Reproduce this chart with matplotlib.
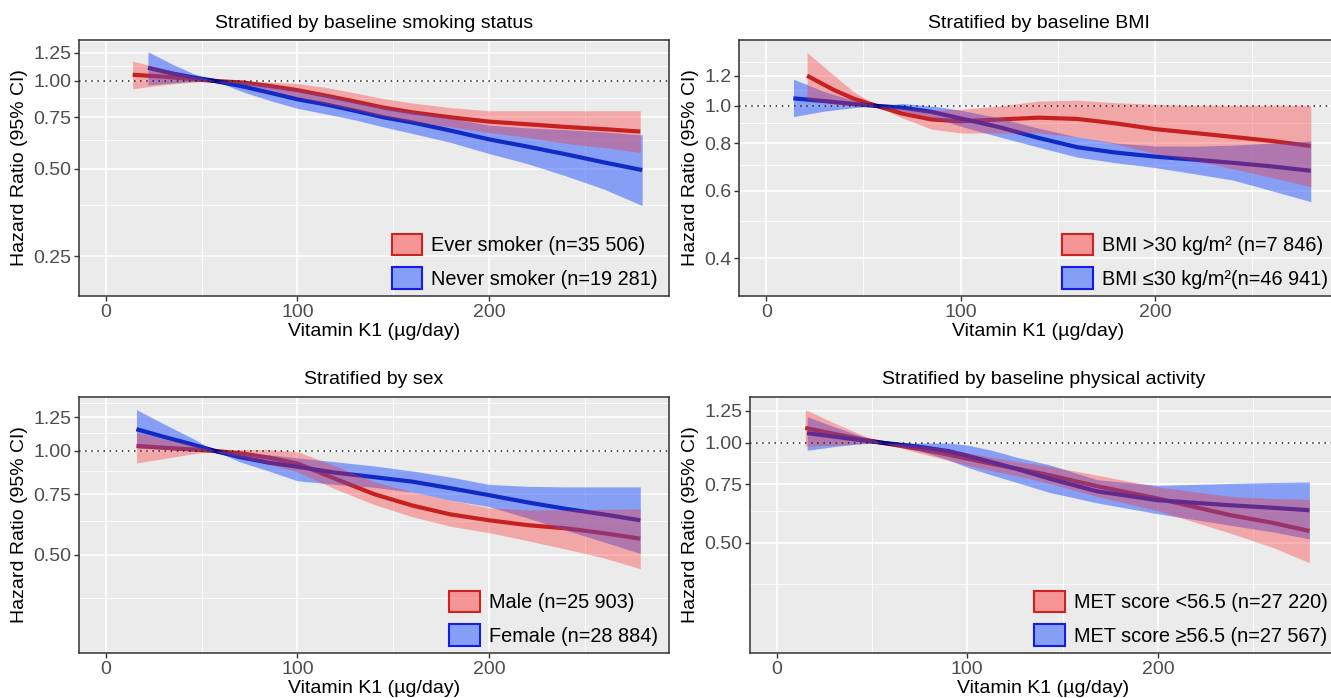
import matplotlib
matplotlib.use("Agg")
import matplotlib.pyplot as plt
from matplotlib.patches import Patch
from matplotlib.ticker import NullFormatter, FixedLocator

plt.rcParams['font.family'] = ['Liberation Sans', 'DejaVu Sans']

# ---------------- data ----------------
titles = ["Stratified by baseline smoking status", "Stratified by baseline BMI",
          "Stratified by sex", "Stratified by baseline physical activity"]
red_labels = ["Ever smoker (n=35 506)", "BMI >30 kg/m\u00b2 (n=7 846)",
              "Male (n=25 903)", "MET score <56.5 (n=27 220)"]
blue_labels = ["Never smoker (n=19 281)", "BMI \u226430 kg/m\u00b2(n=46 941)",
               "Female (n=28 884)", "MET score \u226556.5 (n=27 567)"]

# Panel 1: smoking
p1_red_x = [14, 30, 45, 57, 72, 86, 100, 115, 130, 145, 160, 180, 200, 220, 240, 260, 279]
p1_red_hr = [1.05, 1.035, 1.015, 1.0, 0.987, 0.96, 0.93, 0.89, 0.85, 0.81, 0.78, 0.75, 0.725, 0.71, 0.695, 0.683, 0.67]
p1_red_lo = [0.94, 0.97, 0.99, 1.0, 0.975, 0.93, 0.88, 0.835, 0.795, 0.755, 0.725, 0.695, 0.665, 0.64, 0.61, 0.59, 0.568]
p1_red_hi = [1.17, 1.10, 1.04, 1.0, 1.0, 0.99, 0.98, 0.95, 0.91, 0.87, 0.84, 0.81, 0.79, 0.79, 0.79, 0.79, 0.79]
p1_blue_x = [22, 35, 45, 57, 72, 86, 100, 115, 130, 145, 160, 180, 200, 220, 240, 260, 280]
p1_blue_hr = [1.11, 1.06, 1.03, 1.0, 0.956, 0.91, 0.865, 0.83, 0.79, 0.75, 0.72, 0.675, 0.63, 0.595, 0.56, 0.525, 0.494]
p1_blue_lo = [0.97, 0.985, 0.995, 1.0, 0.915, 0.855, 0.805, 0.77, 0.735, 0.695, 0.66, 0.615, 0.563, 0.52, 0.472, 0.425, 0.373]
p1_blue_hi = [1.26, 1.14, 1.065, 1.0, 0.995, 0.965, 0.93, 0.895, 0.85, 0.81, 0.785, 0.745, 0.705, 0.69, 0.68, 0.668, 0.652]

# Panel 2: BMI
p2_red_x = [21, 35, 45, 57, 70, 85, 100, 120, 140, 160, 180, 200, 220, 240, 260, 280]
p2_red_hr = [1.20, 1.10, 1.045, 1.0, 0.955, 0.922, 0.912, 0.922, 0.932, 0.925, 0.90, 0.87, 0.85, 0.83, 0.81, 0.786]
p2_red_lo = [1.04, 1.01, 1.0, 1.0, 0.93, 0.87, 0.85, 0.85, 0.85, 0.83, 0.795, 0.75, 0.72, 0.685, 0.65, 0.615]
p2_red_hi = [1.38, 1.20, 1.09, 1.0, 0.985, 0.975, 0.98, 1.0, 1.03, 1.035, 1.02, 1.01, 1.005, 1.005, 1.005, 1.005]
p2_blue_x = [14, 30, 45, 57, 70, 85, 100, 120, 140, 160, 180, 200, 220, 240, 260, 280]
p2_blue_hr = [1.047, 1.03, 1.012, 1.0, 0.99, 0.965, 0.928, 0.88, 0.825, 0.78, 0.755, 0.737, 0.724, 0.71, 0.695, 0.677]
p2_blue_lo = [0.938, 0.97, 0.99, 1.0, 0.97, 0.935, 0.885, 0.83, 0.78, 0.735, 0.71, 0.69, 0.665, 0.64, 0.60, 0.562]
p2_blue_hi = [1.175, 1.09, 1.035, 1.0, 1.015, 1.0, 0.975, 0.93, 0.875, 0.83, 0.80, 0.786, 0.785, 0.79, 0.80, 0.81]

# Panel 3: sex
p3_red_x = [16, 30, 45, 57, 70, 85, 100, 120, 140, 160, 180, 200, 220, 240, 260, 279]
p3_red_hr = [1.034, 1.022, 1.01, 1.0, 0.985, 0.957, 0.92, 0.83, 0.75, 0.695, 0.655, 0.63, 0.61, 0.597, 0.578, 0.557]
p3_red_lo = [0.923, 0.95, 0.98, 1.0, 0.96, 0.915, 0.87, 0.775, 0.70, 0.645, 0.605, 0.58, 0.55, 0.52, 0.49, 0.456]
p3_red_hi = [1.135, 1.085, 1.04, 1.0, 1.01, 1.01, 0.995, 0.905, 0.815, 0.76, 0.72, 0.685, 0.675, 0.675, 0.678, 0.68]
p3_blue_x = [16, 30, 45, 57, 70, 85, 100, 120, 140, 160, 180, 200, 220, 240, 260, 279]
p3_blue_hr = [1.156, 1.10, 1.045, 1.0, 0.96, 0.925, 0.90, 0.865, 0.84, 0.815, 0.78, 0.745, 0.71, 0.68, 0.655, 0.63]
p3_blue_lo = [1.02, 1.01, 1.0, 1.0, 0.93, 0.875, 0.82, 0.80, 0.785, 0.76, 0.72, 0.69, 0.64, 0.59, 0.545, 0.505]
p3_blue_hi = [1.317, 1.20, 1.09, 1.0, 0.99, 0.975, 0.955, 0.93, 0.905, 0.875, 0.84, 0.80, 0.79, 0.787, 0.787, 0.787]

# Panel 4: physical activity
p4_red_x = [15, 30, 45, 56, 74, 87, 100, 113, 126, 143, 168, 200, 238, 260, 279.5]
p4_red_hr = [1.11, 1.065, 1.025, 1.0, 0.96, 0.93, 0.897, 0.865, 0.837, 0.80, 0.741, 0.68, 0.606, 0.575, 0.543]
p4_red_lo = [0.977, 0.985, 0.995, 1.0, 0.935, 0.895, 0.857, 0.825, 0.795, 0.755, 0.69, 0.625, 0.535, 0.485, 0.436]
p4_red_hi = [1.26, 1.15, 1.055, 1.0, 0.985, 0.965, 0.935, 0.905, 0.88, 0.85, 0.80, 0.737, 0.69, 0.68, 0.676]
p4_blue_x = [16, 30, 45, 56, 74, 90, 100, 113, 126, 143, 168, 200, 238, 260, 279.5]
p4_blue_hr = [1.07, 1.045, 1.018, 1.0, 0.975, 0.945, 0.915, 0.875, 0.835, 0.781, 0.715, 0.672, 0.649, 0.638, 0.627]
p4_blue_lo = [0.95, 0.975, 0.995, 1.0, 0.95, 0.89, 0.845, 0.80, 0.76, 0.71, 0.66, 0.612, 0.565, 0.54, 0.514]
p4_blue_hi = [1.20, 1.12, 1.045, 1.0, 1.0, 1.0, 0.985, 0.95, 0.905, 0.86, 0.775, 0.745, 0.755, 0.76, 0.763]

x_ticks = [0, 100, 200]
x_minor = [50, 150, 250]
y_major = [[0.25, 0.50, 0.75, 1.00, 1.25], [0.4, 0.6, 0.8, 1.0, 1.2],
           [0.50, 0.75, 1.00, 1.25], [0.50, 0.75, 1.00, 1.25]]
y_labels = [["0.25", "0.50", "0.75", "1.00", "1.25"], ["0.4", "0.6", "0.8", "1.0", "1.2"],
            ["0.50", "0.75", "1.00", "1.25"], ["0.50", "0.75", "1.00", "1.25"]]
y_minor = [[0.375, 0.625, 0.875, 1.125, 1.375], [0.5, 0.7, 0.9, 1.1, 1.3],
           [0.375, 0.625, 0.875, 1.125, 1.375], [0.375, 0.625, 0.875, 1.125, 1.375]]
y_limits = [(0.1823, 1.383), (0.3184, 1.488), (0.260, 1.433), (0.233, 1.375)]
x_limits = (-14, 294)

panels = [
    (p1_red_x, p1_red_hr, p1_red_lo, p1_red_hi, p1_blue_x, p1_blue_hr, p1_blue_lo, p1_blue_hi),
    (p2_red_x, p2_red_hr, p2_red_lo, p2_red_hi, p2_blue_x, p2_blue_hr, p2_blue_lo, p2_blue_hi),
    (p3_red_x, p3_red_hr, p3_red_lo, p3_red_hi, p3_blue_x, p3_blue_hr, p3_blue_lo, p3_blue_hi),
    (p4_red_x, p4_red_hr, p4_red_lo, p4_red_hi, p4_blue_x, p4_blue_hr, p4_blue_lo, p4_blue_hi),
]

# ---------------- layout ----------------
W, H = 1331, 698
fig = plt.figure(figsize=(W / 100, H / 100), dpi=100)

def rect(l, r, t, b):
    return [l / W, 1 - b / H, (r - l) / W, (b - t) / H]

rects = [rect(79, 669, 40, 296), rect(739, 1338, 40, 296),
         rect(79, 669, 397, 653), rect(750, 1337, 397, 653)]
# legend right edge (pixels) inside each panel
legend_right = [658, 1328, 658, 1328]

RED_LINE = '#A81C1C'
BLUE_LINE = '#00008B'
RED_FILL = '#FF2A2A'
BLUE_FILL = '#2255FF'
FS = 14
LFS = 14.3

for i, r in enumerate(rects):
    ax = fig.add_axes(r)
    rx, rhr, rlo, rhi, bx, bhr, blo, bhi = panels[i]
    ax.set_facecolor('#EBEBEB')
    ax.set_yscale('log')
    ax.set_xlim(*x_limits)
    ax.set_ylim(*y_limits[i])
    ax.yaxis.set_major_locator(FixedLocator(y_major[i]))
    ax.set_yticklabels(y_labels[i])
    ax.yaxis.set_minor_locator(FixedLocator(y_minor[i]))
    ax.yaxis.set_minor_formatter(NullFormatter())
    ax.set_xticks(x_ticks)
    ax.set_xticks(x_minor, minor=True)
    ax.grid(which='major', color='white', lw=1.2, zorder=0)
    ax.grid(which='minor', color='white', lw=0.6, zorder=0)
    ax.set_axisbelow(True)
    ax.tick_params(which='minor', length=0)
    ax.tick_params(which='major', length=3.5, width=1, color='#333333',
                   labelsize=FS, labelcolor='#4D4D4D', pad=2)
    for s in ax.spines.values():
        s.set_color('#333333')
        s.set_linewidth(1.1)
    ax.axhline(1.0, color='#222222', lw=1.1, ls=(0, (1, 3)), zorder=5)
    # lines under ribbons
    ax.plot(rx, rhr, color=RED_LINE, lw=3, zorder=2, solid_capstyle='butt')
    ax.plot(bx, bhr, color=BLUE_LINE, lw=3, zorder=2, solid_capstyle='butt')
    ax.fill_between(bx, blo, bhi, color=BLUE_FILL, alpha=0.5, lw=0, zorder=3)
    ax.fill_between(rx, rlo, rhi, color=RED_FILL, alpha=0.35, lw=0, zorder=4)
    ax.set_title(titles[i], fontsize=FS, pad=9)
    ax.set_xlabel("Vitamin K1 (\u00b5g/day)", fontsize=FS, labelpad=2)
    ax.set_ylabel("Hazard Ratio (95% CI)", fontsize=FS, labelpad=4)
    handles = [Patch(facecolor=(1.0, 0.17, 0.17, 0.45), edgecolor='#CC2222', lw=1.5),
               Patch(facecolor=(0.13, 0.33, 1.0, 0.5), edgecolor='#1A1AE6', lw=1.5)]
    l_px, w_px = r[0] * W, r[2] * W
    anchor_x = (legend_right[i] - l_px) / w_px
    ax.legend(handles, [red_labels[i], blue_labels[i]], loc='lower right', frameon=False,
              fontsize=LFS, handlelength=1.55, handleheight=1.3, labelspacing=0.6,
              handletextpad=0.45, borderaxespad=0.0, borderpad=0.0,
              bbox_to_anchor=(anchor_x, 7 / 256))

fig.savefig("out.png", dpi=100)
